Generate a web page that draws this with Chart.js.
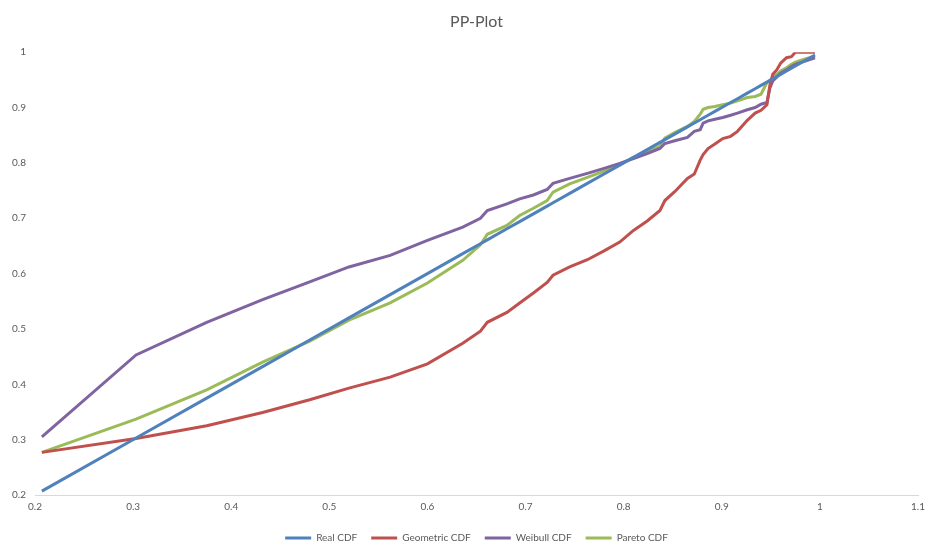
<!DOCTYPE html>
<html>
<head>
<meta charset="utf-8">
<title>PP-Plot</title>
<script src="https://cdn.jsdelivr.net/npm/chart.js@4/dist/chart.umd.min.js"></script>
<style>
  html, body { margin: 0; padding: 0; background: #ffffff; }
  #wrap { width: 926px; height: 545px; position: relative; }
</style>
</head>
<body>
<div id="wrap"><canvas id="pp"></canvas></div>
<script>
// Empirical probabilities (x) shared by all series
const empirical = [0.207, 0.303, 0.375, 0.432, 0.48, 0.52, 0.562, 0.6, 0.636, 0.654, 0.661, 0.681, 0.694, 0.708, 0.722, 0.728, 0.745, 0.763, 0.78, 0.796, 0.81, 0.824, 0.837, 0.842, 0.852, 0.865, 0.872, 0.878, 0.881, 0.886, 0.893, 0.901, 0.909, 0.916, 0.926, 0.934, 0.94, 0.946, 0.949, 0.952, 0.956, 0.96, 0.966, 0.971, 0.975, 0.985, 0.995];

const realCdf = empirical.slice();

const geometricCdf = [0.277, 0.302, 0.325, 0.349, 0.372, 0.393, 0.413, 0.437, 0.474, 0.496, 0.512, 0.53, 0.547, 0.565, 0.584, 0.597, 0.612, 0.625, 0.641, 0.657, 0.678, 0.695, 0.714, 0.732, 0.748, 0.772, 0.78, 0.805, 0.815, 0.826, 0.834, 0.844, 0.848, 0.857, 0.877, 0.89, 0.895, 0.905, 0.94, 0.96, 0.968, 0.98, 0.99, 0.992, 1.0, 1.0, 1.0];

const weibullCdf = [0.305, 0.453, 0.512, 0.553, 0.585, 0.612, 0.633, 0.66, 0.684, 0.7, 0.714, 0.726, 0.735, 0.742, 0.752, 0.763, 0.772, 0.781, 0.79, 0.799, 0.808, 0.817, 0.826, 0.835, 0.84, 0.846, 0.857, 0.86, 0.872, 0.876, 0.879, 0.882, 0.886, 0.89, 0.896, 0.9, 0.906, 0.909, 0.935, 0.948, 0.955, 0.962, 0.968, 0.974, 0.978, 0.984, 0.99];

const paretoCdf = [0.277, 0.337, 0.39, 0.44, 0.478, 0.516, 0.547, 0.583, 0.624, 0.652, 0.671, 0.687, 0.705, 0.718, 0.732, 0.747, 0.762, 0.774, 0.785, 0.797, 0.81, 0.82, 0.83, 0.845, 0.855, 0.866, 0.875, 0.888, 0.897, 0.9, 0.902, 0.905, 0.908, 0.912, 0.918, 0.92, 0.924, 0.945, 0.948, 0.955, 0.96, 0.966, 0.972, 0.978, 0.982, 0.988, 0.993];

const seriesNames = ['Real CDF', 'Geometric CDF', 'Weibull CDF', 'Pareto CDF'];
const seriesColors = ['#4F81BD', '#C0504D', '#8064A2', '#9BBB59'];
const seriesValues = [realCdf, geometricCdf, weibullCdf, paretoCdf];

const FONT = "Lato, 'Open Sans', sans-serif";
const TEXT = '#595959';

function toPoints(ys) {
  return empirical.map((x, i) => ({ x: x, y: ys[i] }));
}

const datasets = seriesNames.map((name, i) => ({
  label: name,
  data: toPoints(seriesValues[i]),
  borderColor: seriesColors[i],
  backgroundColor: seriesColors[i],
  borderWidth: 3,
  pointRadius: 0,
  pointHoverRadius: 0,
  showLine: true,
  tension: 0,
  pointStyle: 'line'
}));

const fmt = v => String(Number(v.toFixed(1)));

// Center the title and legend over the plot area rather than the whole canvas
const centerOnPlot = {
  id: 'centerOnPlot',
  afterLayout(chart) {
    const ca = chart.chartArea;
    const mid = (ca.left + ca.right) / 2;
    [chart.titleBlock, chart.legend].forEach(box => {
      if (!box) return;
      const d = mid - (box.left + box.right) / 2;
      box.left += d;
      box.right += d;
    });
  }
};

new Chart(document.getElementById('pp'), {
  type: 'scatter',
  data: { datasets: datasets },
  plugins: [centerOnPlot],
  options: {
    responsive: true,
    maintainAspectRatio: false,
    animation: false,
    devicePixelRatio: 1,
    layout: { padding: { left: 0, right: 0, top: 0, bottom: -8 } },
    plugins: {
      tooltip: { enabled: false },
      title: {
        display: true,
        text: 'PP-Plot',
        color: TEXT,
        font: { family: FONT, size: 16, weight: 'normal' },
        padding: { top: 12, bottom: 21 }
      },
      legend: {
        position: 'bottom',
        labels: {
          color: TEXT,
          font: { family: FONT, size: 10 },
          usePointStyle: true,
          pointStyle: 'line',
          pointStyleWidth: 26,
          boxHeight: 10,
          padding: 14
        }
      }
    },
    scales: {
      x: {
        type: 'linear',
        min: 0.2,
        max: 1.1,
        afterFit: s => { s.paddingRight = 8; },
        ticks: {
          stepSize: 0.1,
          color: TEXT,
          font: { family: FONT, size: 10 },
          padding: 6,
          maxRotation: 0,
          callback: v => fmt(v)
        },
        grid: { display: false, drawTicks: false },
        border: { display: true, color: '#D9D9D9', width: 1 }
      },
      y: {
        type: 'linear',
        min: 0.2,
        max: 1,
        afterFit: s => { s.width = 35; },
        ticks: {
          stepSize: 0.1,
          color: TEXT,
          font: { family: FONT, size: 10 },
          padding: 9,
          callback: v => fmt(v)
        },
        grid: { display: false, drawTicks: false },
        border: { display: false }
      }
    }
  }
});
</script>
</body>
</html>
